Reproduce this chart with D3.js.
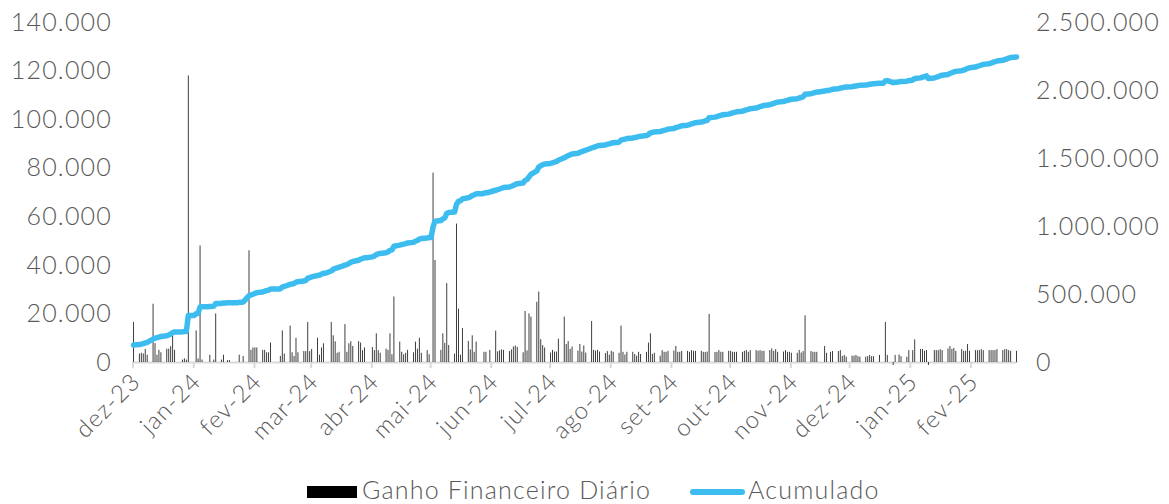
<html lang="pt">
  <head>
    <title>Ganho Financeiro</title>
    <script src="https://d3js.org/d3.v7.min.js"></script>
    <style>
      body { margin: 0; background: #fff; }
      text { font-family: Lato, "Open Sans", sans-serif; font-weight: 300; fill: #595959; letter-spacing: 1.2px; }
      .axis line, .axis path { stroke: #d9d9d9; }
    </style>
  </head>
  <body>
    <svg id="chart" width="1169" height="504"></svg>
    <script>

      // rótulos do eixo x (um por mês)
      const meses = ['dez-23', 'jan-24', 'fev-24', 'mar-24', 'abr-24', 'mai-24', 'jun-24', 'jul-24',
        'ago-24', 'set-24', 'out-24', 'nov-24', 'dez-24', 'jan-25', 'fev-25']

      const ticksEsq = [0, 20000, 40000, 60000, 80000, 100000, 120000, 140000]
      const ticksDir = [0, 500000, 1000000, 1500000, 2000000, 2500000]

      // saldo acumulado antes do primeiro dia
      const acumuladoInicial = 108000

      // ganho diário, um valor por dia útil de cada mês
      const ganhoDez23 = [16500, 3500, 3800, 3500, 5400, 3000, 24000, 7800, 3000, 5000, 4000, 5500, 5500, 6500, 11000, 5000, 0, 1000, 1500, 1000, 118000]
      const ganhoJan24 = [0, 13000, 1500, 48000, 1000, 0, 3000, 0, 1000, 20000, 1000, 3000, 0, 800, 800, 0, 0, 3000, 0, 2500, 46000, 5000, 6000]
      const ganhoFev24 = [6000, 6000, 5000, 5000, 4000, 4000, 8000, 0, 0, 2500, 13000, 3500, 15000, 4000, 2500, 10000, 4000, 4500, 4500, 16500, 4500]
      const ganhoMar24 = [5400, 10000, 3000, 6000, 7700, 0, 16500, 11000, 8500, 3800, 4200, 15600, 4200, 7700, 8600, 6600, 8600, 8000, 4900, 6000, 0]
      const ganhoAbr24 = [6200, 4900, 11800, 4900, 3800, 5500, 5000, 11800, 3200, 27000, 8400, 4200, 3200, 3800, 5000, 4000, 8400, 5500, 10000, 3800, 4900, 3200]
      const ganhoMai24 = [0, 78000, 42000, 5000, 11800, 7900, 32500, 7000, 3500, 57000, 22000, 3000, 14000, 8700, 5200, 11000, 4200, 8400, 0, 4200, 4200, 0, 5000]
      const ganhoJun24 = [12900, 4400, 4800, 5200, 5000, 4500, 5200, 6400, 6800, 6200, 4000, 21000, 4800, 20000, 18700, 24800, 29000, 9400, 7000, 6000]
      const ganhoJul24 = [3900, 5000, 4300, 4300, 9600, 18700, 7400, 8600, 5400, 6400, 4700, 7400, 4300, 6800, 3900, 16900, 5000, 4700, 5000, 4300, 3700, 4500, 3000]
      const ganhoAgo24 = [4600, 4200, 3800, 15000, 4200, 3100, 4200, 4200, 3300, 2600, 4200, 3300, 4200, 8000, 11800, 3300, 3800, 2600, 4900, 4200, 4200, 4600]
      const ganhoSet24 = [4700, 6600, 4200, 4200, 4600, 4600, 4200, 4900, 4600, 4600, 4600, 4200, 4100, 4300, 19800, 4100, 4200, 4900, 4200, 4200, 4600]
      const ganhoOut24 = [4600, 4200, 4200, 4200, 4200, 4600, 4900, 4200, 4900, 4900, 4600, 4900, 4600, 4600, 4900, 5600, 4600, 5300, 4200, 4300, 4900, 4200, 4200]
      const ganhoNov24 = [3800, 3800, 5000, 3900, 4500, 19200, 4500, 4200, 4200, 4200, 0, 6600, 3800, 0, 4200, 4500, 4500, 4900, 2500, 2900, 2200]
      const ganhoDez24 = [2600, 2600, 2900, 2400, 2200, 2200, 2400, 2900, 2400, 2400, 2900, 0, 0, 16500, 2900, -15000, 2900, 0, 3100, 2400, 2200, 4900]
      const ganhoJan25 = [0, 4900, 9300, 5400, 5400, 4600, 4900, -20000, 4900, 4900, 4900, 5300, 4900, 5600, 6600, 5400, 5800, 4600, 5300, 4600, 4600, 7400, 4600]
      const ganhoFev25 = [4900, 4900, 4900, 5300, 4900, 4900, 4900, 4900, 4900, 5300, 4900, 5300, 5300, 4900, 4600, 4600]

      const porMes = [ganhoDez23, ganhoJan24, ganhoFev24, ganhoMar24, ganhoAbr24, ganhoMai24, ganhoJun24,
        ganhoJul24, ganhoAgo24, ganhoSet24, ganhoOut24, ganhoNov24, ganhoDez24, ganhoJan25, ganhoFev25]

      // liga cada valor ao seu dia útil
      const inicio = new Date(Date.UTC(2023, 11, 1))
      const fim = new Date(Date.UTC(2025, 1, 25))
      const dados = []
      let acc = acumuladoInicial
      porMes.forEach((valores, i) => {
        const m0 = d3.utcMonth.offset(inicio, i)
        const dias = d3.utcDay.range(m0, d3.utcMonth.offset(m0, 1))
          .filter(d => d.getUTCDay() !== 0 && d.getUTCDay() !== 6)
        valores.forEach((v, j) => {
          acc += v
          dados.push({ data: dias[j], ganho: v, acumulado: acc })
        })
      })

      const svg = d3.select('#chart')
      const x = d3.scaleUtc().domain([inicio, fim]).range([132.5, 1017.5])
      const yEsq = d3.scaleLinear().domain([0, 140000]).range([362, 22])
      const yDir = d3.scaleLinear().domain([0, 2500000]).range([362, 22])
      const fmt = d3.formatLocale({ decimal: ',', thousands: '.', grouping: [3], currency: ['R$', ''] }).format(',.0f')
      const meio = d => d3.utcHour.offset(d, 12)

      svg.append('clipPath').attr('id', 'area')
        .append('rect').attr('x', 130).attr('y', 0).attr('width', 892).attr('height', 365)

      // eixo x
      const eixoX = svg.append('g').attr('class', 'axis').attr('transform', 'translate(0,362)')
        .call(d3.axisBottom(x).tickValues(d3.utcMonth.range(inicio, fim)).tickSize(6).tickFormat(''))
      eixoX.select('.domain').attr('d', 'M132.5,0.5H1017.5').attr('stroke-width', 2)
      eixoX.selectAll('.tick line').attr('stroke-width', 2)
      eixoX.selectAll('.tick').append('text')
        .attr('transform', 'translate(3,15) rotate(-45)')
        .attr('text-anchor', 'end')
        .attr('dy', '0.35em')
        .style('font-size', '24px')
        .text((d, i) => meses[i])

      // barras
      svg.append('g').attr('clip-path', 'url(#area)')
        .selectAll('rect').data(dados).join('rect')
        .attr('x', d => x(meio(d.data)) - 0.45)
        .attr('width', 0.9)
        .attr('y', d => Math.min(yEsq(d.ganho), yEsq(0)))
        .attr('height', d => Math.abs(yEsq(0) - yEsq(d.ganho)))
        .attr('fill', '#2b2b2b')

      // linha acumulada
      svg.append('path').datum(dados)
        .attr('fill', 'none')
        .attr('stroke', '#3dbdef')
        .attr('stroke-width', 5.5)
        .attr('stroke-linejoin', 'round')
        .attr('stroke-linecap', 'round')
        .attr('d', d3.line().x(d => x(meio(d.data))).y(d => yDir(d.acumulado)))

      // eixos y (só rótulos)
      svg.append('g').selectAll('text').data(ticksEsq).join('text')
        .attr('x', 112).attr('y', d => yEsq(d)).attr('dy', '0.35em')
        .attr('text-anchor', 'end').style('font-size', '25px')
        .text(d => fmt(d))
      svg.append('g').selectAll('text').data(ticksDir).join('text')
        .attr('x', 1036).attr('y', d => yDir(d)).attr('dy', '0.35em')
        .attr('text-anchor', 'start').style('font-size', '25px')
        .text(d => fmt(d))

      // legenda
      const leg = svg.append('g')
      leg.append('rect').attr('x', 307).attr('y', 486).attr('width', 50).attr('height', 12).attr('fill', '#000')
      leg.append('text').attr('x', 362).attr('y', 490).attr('dy', '0.35em').style('font-size', '25px').text('Ganho Financeiro Diário')
      leg.append('line').attr('x1', 693).attr('x2', 742).attr('y1', 492).attr('y2', 492)
        .attr('stroke', '#3dbdef').attr('stroke-width', 6).attr('stroke-linecap', 'round')
      leg.append('text').attr('x', 748).attr('y', 490).attr('dy', '0.35em').style('font-size', '25px').text('Acumulado')
    </script>
  </body>
</html>
